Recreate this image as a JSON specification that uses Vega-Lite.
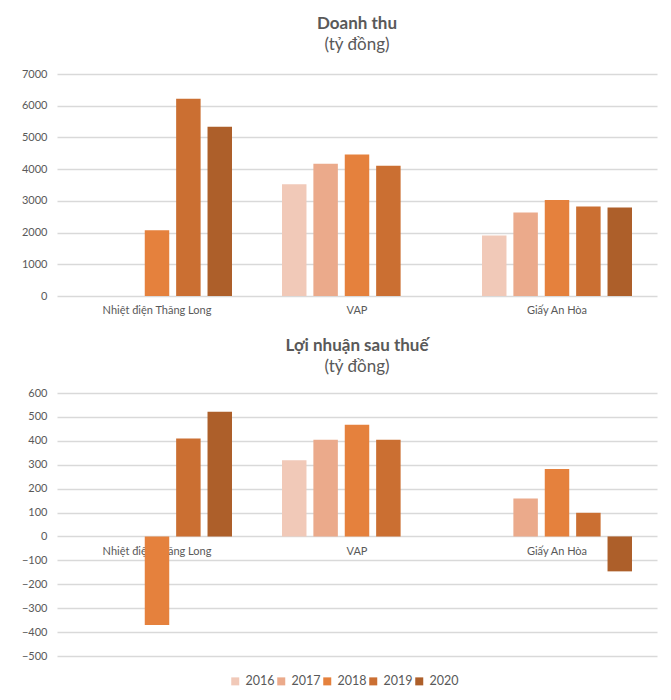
{
  "$schema": "https://vega.github.io/schema/vega-lite/v6.json",
  "padding": {"left": 5, "top": 15, "right": 10, "bottom": 5},
  "background": "white",
  "spacing": 22,
  "datasets": {
    "revenue": [
      {"company": "Nhiệt điện Thăng Long", "year": "2018", "value": 2070},
      {"company": "Nhiệt điện Thăng Long", "year": "2019", "value": 6220},
      {"company": "Nhiệt điện Thăng Long", "year": "2020", "value": 5340},
      {"company": "VAP", "year": "2016", "value": 3520},
      {"company": "VAP", "year": "2017", "value": 4170},
      {"company": "VAP", "year": "2018", "value": 4460},
      {"company": "VAP", "year": "2019", "value": 4110},
      {"company": "Giấy An Hòa", "year": "2016", "value": 1910},
      {"company": "Giấy An Hòa", "year": "2017", "value": 2630},
      {"company": "Giấy An Hòa", "year": "2018", "value": 3030},
      {"company": "Giấy An Hòa", "year": "2019", "value": 2820},
      {"company": "Giấy An Hòa", "year": "2020", "value": 2790}
    ],
    "profit": [
      {"company": "Nhiệt điện Thăng Long", "year": "2018", "value": -370},
      {"company": "Nhiệt điện Thăng Long", "year": "2019", "value": 410},
      {"company": "Nhiệt điện Thăng Long", "year": "2020", "value": 522},
      {"company": "VAP", "year": "2016", "value": 319},
      {"company": "VAP", "year": "2017", "value": 404},
      {"company": "VAP", "year": "2018", "value": 467},
      {"company": "VAP", "year": "2019", "value": 404},
      {"company": "Giấy An Hòa", "year": "2017", "value": 159},
      {"company": "Giấy An Hòa", "year": "2018", "value": 282},
      {"company": "Giấy An Hòa", "year": "2019", "value": 99},
      {"company": "Giấy An Hòa", "year": "2020", "value": -146}
    ]
  },
  "config": {
    "font": "Lato",
    "view": {"stroke": null},
    "title": {"font": "Lato", "fontSize": 17, "fontWeight": "bold", "color": "#595959", "subtitleFont": "Lato", "subtitleFontSize": 17, "subtitleColor": "#595959", "anchor": "middle", "offset": 14, "subtitlePadding": 4},
    "axis": {"labelFont": "Lato", "labelFontSize": 11, "labelColor": "#595959", "gridColor": "#D9D9D9", "gridWidth": 1.3, "domain": false, "ticks": false, "title": null}
  },
  "vconcat": [
    {
      "title": {"text": "Doanh thu", "subtitle": "(tỷ đồng)"},
      "width": 600,
      "height": 222,
      "data": {"name": "revenue"},
      "mark": {"type": "bar"},
      "encoding": {
        "x": {"field": "company", "type": "nominal", "sort": ["Nhiệt điện Thăng Long", "VAP", "Giấy An Hòa"], "scale": {"paddingInner": 0.25, "paddingOuter": 0.125}, "axis": {"labelAngle": 0, "grid": false, "labelPadding": 8}},
        "xOffset": {"field": "year", "type": "nominal", "scale": {"domain": ["2016", "2017", "2018", "2019", "2020"], "paddingInner": 0.22}},
        "y": {"field": "value", "type": "quantitative", "scale": {"domain": [0, 7000], "nice": false}, "axis": {"values": [0, 1000, 2000, 3000, 4000, 5000, 6000, 7000], "format": "d", "minExtent": 52, "labelPadding": 10}},
        "color": {"field": "year", "type": "nominal", "scale": {"domain": ["2016", "2017", "2018", "2019", "2020"], "range": ["#F1C9B8", "#EBAA8B", "#E5813D", "#CB6F32", "#AD5F2A"]}, "legend": {"orient": "none", "legendX": 172, "legendY": 601, "direction": "horizontal", "title": null, "symbolType": "square", "symbolSize": 64, "labelFont": "Lato", "labelFontSize": 12.5, "labelColor": "#595959", "columnPadding": 0, "symbolOffset": 0}}
      }
    },
    {
      "title": {"text": "Lợi nhuận sau thuế", "subtitle": "(tỷ đồng)", "offset": 11},
      "width": 600,
      "height": 263,
      "data": {"name": "profit"},
      "mark": {"type": "bar"},
      "encoding": {
        "x": {"field": "company", "type": "nominal", "sort": ["Nhiệt điện Thăng Long", "VAP", "Giấy An Hòa"], "scale": {"paddingInner": 0.25, "paddingOuter": 0.125}, "axis": {"labelAngle": 0, "grid": false, "labelPadding": 8, "offset": -119}},
        "xOffset": {"field": "year", "type": "nominal", "scale": {"domain": ["2016", "2017", "2018", "2019", "2020"], "paddingInner": 0.22}},
        "y": {"field": "value", "type": "quantitative", "scale": {"domain": [-500, 600], "nice": false}, "axis": {"values": [-500, -400, -300, -200, -100, 0, 100, 200, 300, 400, 500, 600], "format": "d", "minExtent": 52, "labelPadding": 10}},
        "color": {"field": "year", "type": "nominal", "scale": {"domain": ["2016", "2017", "2018", "2019", "2020"], "range": ["#F1C9B8", "#EBAA8B", "#E5813D", "#CB6F32", "#AD5F2A"]}}
      }
    }
  ]
}
